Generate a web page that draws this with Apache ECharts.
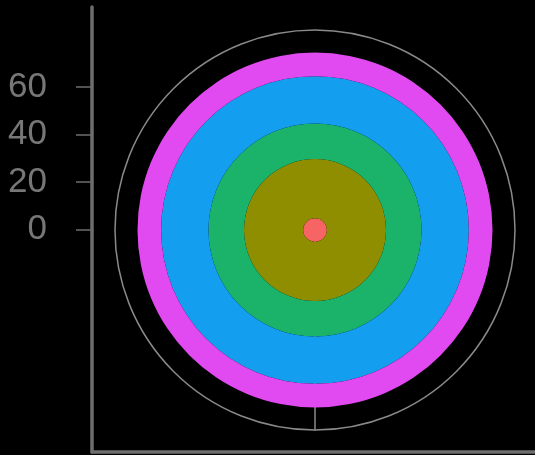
<!DOCTYPE html>
<html>
<head>
<meta charset="utf-8">
<script src="https://cdn.jsdelivr.net/npm/echarts@6/dist/echarts.min.js"></script>
<style>html,body{margin:0;padding:0;background:#000;}#c{width:535px;height:455px;}</style>
</head>
<body>
<div id="c"></div>
<script>
const angleCategories = ['A'];
const seriesNames = ['s1', 's2', 's3', 's4', 's5'];
const seriesValues = [5, 25, 15, 20, 10];
const seriesColors = ['#f66464', '#8e8e00', '#1bb26a', '#149ef0', '#e04af0'];
const yTickValues = [0, 20, 40, 60];

const chart = echarts.init(document.getElementById('c'), null, {renderer: 'canvas'});
const gray = '#6e6e6e';
const series = seriesNames.map((name, i) => ({
  name: name,
  type: 'bar',
  coordinateSystem: 'polar',
  stack: 'total',
  barCategoryGap: '0%',
  data: [seriesValues[i]],
  itemStyle: {color: seriesColors[i]},
  silent: true,
  animation: false
}));

chart.setOption({
  backgroundColor: '#000',
  animation: false,
  grid: {left: 92, right: 0, top: 7, bottom: 3, containLabel: false},
  xAxis: {
    type: 'value', min: 0, max: 1,
    axisLine: {show: true, onZero: false, lineStyle: {color: gray, width: 3.5}},
    axisTick: {show: false}, axisLabel: {show: false}, splitLine: {show: false}
  },
  yAxis: {
    type: 'value', min: -93.6, max: 93.6,
    axisLine: {show: true, onZero: false, lineStyle: {color: gray, width: 3.5}},
    axisTick: {show: true, length: 16, customValues: yTickValues, lineStyle: {color: gray, width: 1.5}},
    axisLabel: {show: true, customValues: yTickValues, margin: 45, color: '#777', fontSize: 35, fontFamily: 'Liberation Sans'},
    splitLine: {show: false}
  },
  polar: {center: [315, 230], radius: [0, 200]},
  angleAxis: {
    type: 'category', data: angleCategories, startAngle: 270,
    axisLine: {show: true, lineStyle: {color: '#8a8a8a', width: 1.5}},
    axisTick: {show: false}, axisLabel: {show: false}, splitLine: {show: false}
  },
  radiusAxis: {
    type: 'value', min: 0, max: 84.5,
    axisLine: {show: true, lineStyle: {color: '#8a8a8a', width: 1.5}},
    axisTick: {show: false}, axisLabel: {show: false}, splitLine: {show: false}
  },
  series: series
});
</script>
</body>
</html>
